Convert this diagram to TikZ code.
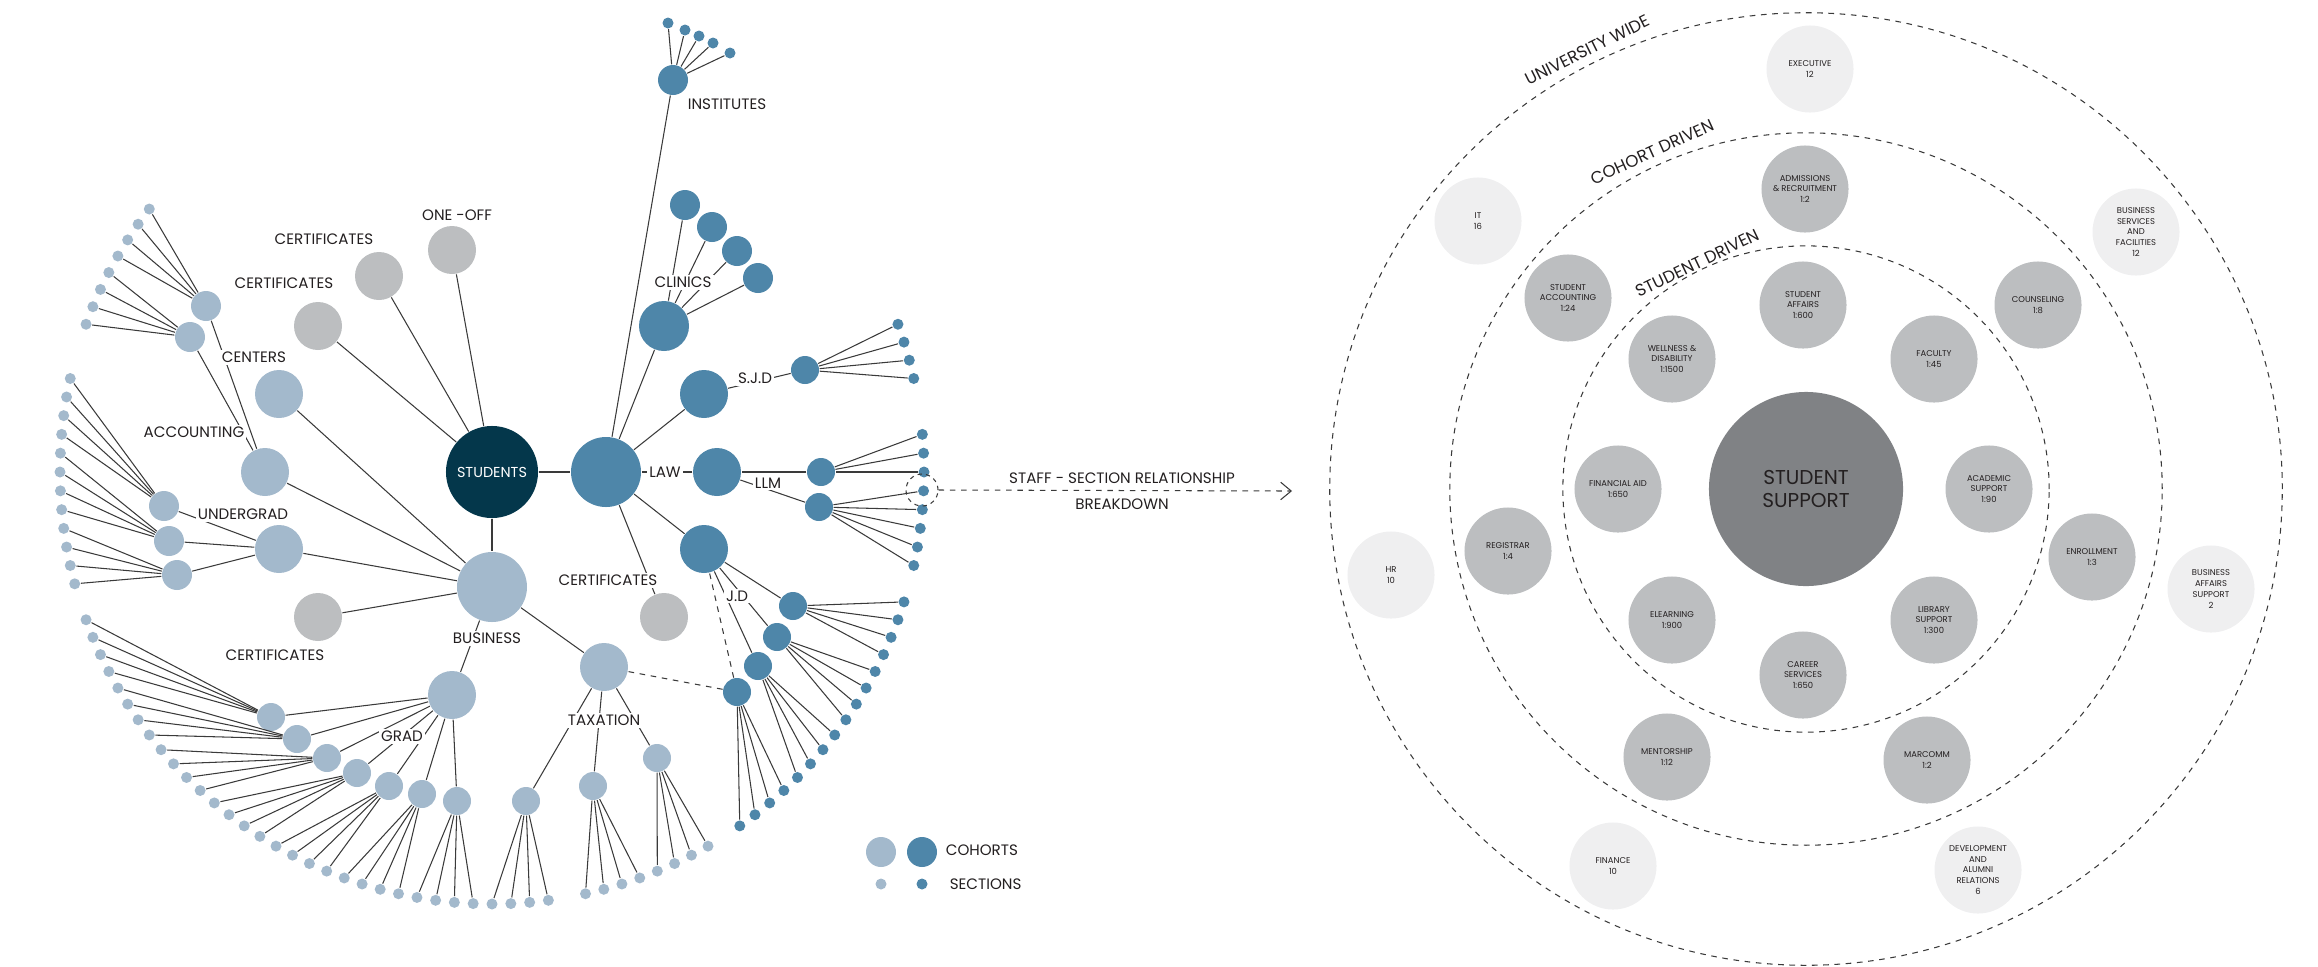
\documentclass[tikz,border=0pt]{standalone}
\usepackage{fontspec}
\setmainfont{Poppins}
\usetikzlibrary{arrows.meta}
\definecolor{lblue}{HTML}{A3B9CC}
\definecolor{dblue}{HTML}{4E86A9}
\definecolor{navy}{HTML}{04374B}
\definecolor{cgrey}{HTML}{BCBEC0}
\definecolor{ugrey}{HTML}{EFEFF0}
\definecolor{sgrey}{HTML}{808285}
\definecolor{linec}{HTML}{3A3A3A}
\definecolor{txt}{HTML}{231F20}
\tikzset{
  lb/.style={circle,fill=lblue,inner sep=0pt,minimum size=#1*0.01cm},
  db/.style={circle,fill=dblue,inner sep=0pt,minimum size=#1*0.01cm},
  gr/.style={circle,fill=cgrey,inner sep=0pt,minimum size=#1*0.01cm},
  edge/.style={draw=linec,line width=0.3pt},
  dedge/.style={draw=linec,line width=0.3pt,dash pattern=on 1.6pt off 1.6pt},
  lab/.style={font=\fontsize{4.3}{5}\selectfont,text=txt,fill=white,inner sep=0.6pt},
  rn/.style={circle,fill=cgrey,inner sep=0pt,minimum size=0.87cm,align=center,font=\fontsize{2.4}{3.1}\selectfont,text=txt},
  un/.style={rn,fill=ugrey},
  ring/.style={draw=linec,line width=0.3pt,dash pattern=on 1.6pt off 1.6pt},
  ringlab/.style={font=\fontsize{4.8}{5}\selectfont,text=txt,inner sep=0pt},
}
\begin{document}
\begin{tikzpicture}[x=0.01cm,y=-0.01cm]
\useasboundingbox (0,0) rectangle (2318,966);
% ---------------- left tree ----------------
\node[circle,fill=navy,inner sep=0pt,minimum size=0.92cm,text=white,font=\fontsize{4.1}{5}\selectfont] (S) at (492,472) {STUDENTS};
\node[db=70] (law) at (606,472) {};
\node[lb=70] (bus) at (492,587) {};
\draw[edge] (S)--(law); \draw[edge] (S)--(bus);
% grey certificates
\node[gr=48] (c1) at (318,326) {};
\node[gr=48] (c2) at (379,276) {};
\node[gr=48] (c3) at (452,250) {};
\node[gr=48] (c4) at (318,617) {};
\node[gr=48] (c5) at (664,617) {};
\draw[edge] (c1)--(S); \draw[edge] (c2)--(S); \draw[edge] (c3)--(S);
\draw[edge] (c4)--(bus); \draw[edge] (c5)--(law);
% business side
\node[lb=48] (cen) at (279,394) {};
\node[lb=48] (acc) at (265,472) {};
\node[lb=48] (und) at (279,549) {};
\node[lb=48] (grad) at (452,695) {};
\node[lb=48] (tax) at (604,667) {};
\foreach \n in {cen,acc,und,grad,tax} \draw[edge] (\n)--(bus);
\node[lb=30] (tl1) at (206,306) {};
\node[lb=30] (tl2) at (190,337) {};
\draw[edge] (tl1)--(acc); \draw[edge] (tl2)--(acc);
\node[lb=30] (u1) at (164,506) {};
\node[lb=30] (u2) at (169,541) {};
\node[lb=30] (u3) at (177,575) {};
\foreach \n in {u1,u2,u3} \draw[edge] (\n)--(und);
\foreach \n/\p in {g1/{271,717},g2/{297,739},g3/{327,758},g4/{357,773},g5/{389,786},g6/{422,794},g7/{457,801}}
  {\node[lb=28] (\n) at (\p) {}; \draw[edge] (\n)--(grad);}
\foreach \n/\p in {t1/{526,801},t2/{593,786},t3/{657,758}}
  {\node[lb=28] (\n) at (\p) {}; \draw[edge] (\n)--(tax);}
% law side
\node[db=30] (inst) at (673,80) {};
\node[db=50] (cli) at (664,326) {};
\node[db=48] (sjd) at (704,394) {};
\node[db=48] (llm) at (717,472) {};
\node[db=48] (jd) at (704,549) {};
\foreach \n in {inst,cli,sjd,llm,jd} \draw[edge] (\n)--(law);
\foreach \n/\p in {k1/{685,205},k2/{712,227},k3/{737,251},k4/{758,278}}
  {\node[db=30] (\n) at (\p) {}; \draw[edge] (\n)--(cli);}
\node[db=28] (s1) at (805,370) {}; \draw[edge] (s1)--(sjd);
\node[db=28] (m1) at (821,472) {}; \draw[edge] (m1)--(llm);
\node[db=28] (m2) at (819,507) {}; \draw[edge] (m2)--(llm);
\foreach \n/\p in {j1/{793,606},j2/{777,637},j3/{758,666}}
  {\node[db=28] (\n) at (\p) {}; \draw[edge] (\n)--(jd);}
\node[db=28] (j4) at (737,692) {};
\draw[dedge] (j4)--(jd); \draw[dedge] (j4)--(tax);
\foreach \i/\p in {1/{668,23},2/{685,30},3/{699,36},4/{713,43},5/{730,53}}
  {\node[db=11] (il\i) at (\p) {}; \draw[edge] (il\i)--(inst);}
% leaves on the arc
\foreach \c/\al/\col in {tl1/{217.5,215,212.5,210}/lb,tl2/{207.5,205,202.5,200}/lb,
  u1/{192.5,190,187.5,185}/lb,u2/{182.5,180,177.5,175}/lb,u3/{172.5,170,167.5,165}/lb,
  g1/{160,157.5,155,152.5}/lb,g2/{150,147.5,145,142.5}/lb,g3/{140,137.5,135,132.5}/lb,
  g4/{130,127.5,125,122.5}/lb,g5/{120,117.5,115,112.5}/lb,g6/{110,107.5,105,102.5}/lb,
  g7/{100,97.5,95,92.5}/lb,t1/{90,87.5,85,82.5}/lb,t2/{77.5,75,72.5,70}/lb,t3/{67.5,65,62.5,60}/lb,
  j4/{55,52.5,50,47.5}/db,j3/{45,42.5,40,37.5}/db,j2/{35,32.5,30,27.5}/db,j1/{25,22.5,20,17.5}/db,
  m2/{12.5,10,7.5,5,2.5}/db,m1/{0,-2.5,-5}/db,s1/{-12.5,-15,-17.5,-20}/db}
  {\foreach \a in \al {
     \pgfmathtruncatemacro\k{round(\a*10+3000)}
     \node[\col=11] (lf\k) at ([shift={(492,472)}]\a:432) {};
     \draw[edge] (lf\k)--(\c);}}
% labels
\node[lab] (tINST) at (727,104) {INSTITUTES};
\node[lab] (tONE) at (457,215) {ONE -OFF};
\node[lab] (tC1) at (324,239) {CERTIFICATES};
\node[lab] (tC2) at (284,283) {CERTIFICATES};
\node[lab] (tCEN) at (254,357) {CENTERS};
\node[lab] (tCLI) at (683,282) {CLINICS};
\node[lab] (tSJD) at (755,378) {S.J.D};
\node[lab] (tACC) at (194,432) {ACCOUNTING};
\node[lab] (tLAW) at (665,472) {LAW};
\node[lab] (tLLM) at (768,483) {LLM};
\node[lab] (tUND) at (243,514) {UNDERGRAD};
\node[lab] (tC3) at (608,580) {CERTIFICATES};
\node[lab] (tJD) at (737,596) {J.D};
\node[lab] (tBUS) at (487,638) {BUSINESS};
\node[lab] (tC4) at (275,655) {CERTIFICATES};
\node[lab] (tTAX) at (604,720) {TAXATION};
\node[lab] (tGRAD) at (402,736) {GRAD};
% staff-section relationship
\node[circle,draw=linec,line width=0.3pt,dash pattern=on 1.2pt off 1.2pt,minimum size=0.32cm,inner sep=0pt] (hl) at (922,490) {};
\coordinate (arrEnd) at (1292,491);
\draw[dedge,-{Straight Barb[length=3pt,width=5pt]}] (hl.east) -- (arrEnd);
\node[lab,fill=none] (tSTAFF) at (1122,478) {STAFF - SECTION RELATIONSHIP};
\node[lab,fill=none] (tBRK) at (1122,504) {BREAKDOWN};
% legend
\node[lb=30] (lg1) at (881,852) {};
\node[db=30] (lg2) at (922,852) {};
\node[lab,fill=none,anchor=west] (tCOH) at (943,850) {COHORTS};
\node[lb=11] (lg3) at (881,884) {};
\node[db=11] (lg4) at (922,884) {};
\node[lab,fill=none,anchor=west] (tSEC) at (947,884) {SECTIONS};
% ---------------- right rings ----------------
\coordinate (O) at (1806,489);
\draw[ring] (O) circle [radius=2.43cm];
\draw[ring] (O) circle [radius=3.56cm];
\draw[ring] (O) circle [radius=4.76cm];
\node[ringlab,rotate=26.5] (rUW) at (1587,50) {UNIVERSITY WIDE};
\node[ringlab,rotate=24.6] (rCD) at (1652,152) {COHORT DRIVEN};
\node[ringlab,rotate=25.7] (rSD) at (1697,263) {STUDENT DRIVEN};
\node[circle,fill=sgrey,minimum size=1.94cm,inner sep=0pt,align=center,text=txt,font=\fontsize{5.7}{6.6}\selectfont] (SS) at (O) {STUDENT\\SUPPORT};
% student driven
\node[rn] (n1) at (1803,305) {STUDENT\\AFFAIRS\\1:600};
\node[rn] (n2) at (1934,359) {FACULTY\\1:45};
\node[rn] (n3) at (1989,489) {ACADEMIC\\SUPPORT\\1:90};
\node[rn] (n4) at (1934,620) {LIBRARY\\SUPPORT\\1:300};
\node[rn] (n5) at (1803,675) {CAREER\\SERVICES\\1:650};
\node[rn] (n6) at (1672,620) {ELEARNING\\1:900};
\node[rn] (n7) at (1618,489) {FINANCIAL AID\\1:650};
\node[rn] (n8) at (1672,359) {WELLNESS \&\\DISABILITY\\1:1500};
% cohort driven
\node[rn] (c21) at (1805,189) {ADMISSIONS\\\& RECRUITMENT\\1:2};
\node[rn] (c22) at (2038,305) {COUNSELING\\1:8};
\node[rn] (c23) at (2092,557) {ENROLLMENT\\1:3};
\node[rn] (c24) at (1927,760) {MARCOMM\\1:2};
\node[rn] (c25) at (1667,757) {MENTORSHIP\\1:12};
\node[rn] (c26) at (1508,551) {REGISTRAR\\1:4};
\node[rn] (c27) at (1568,298) {STUDENT\\ACCOUNTING\\1:24};
% university wide
\node[un] (w1) at (1810,69) {EXECUTIVE\\12};
\node[un] (w2) at (2136,232) {BUSINESS\\SERVICES\\AND\\FACILITIES\\12};
\node[un] (w3) at (2211,589) {BUSINESS\\AFFAIRS\\SUPPORT\\2};
\node[un] (w4) at (1978,870) {DEVELOPMENT\\AND\\ALUMNI\\RELATIONS\\6};
\node[un] (w5) at (1613,866) {FINANCE\\10};
\node[un] (w6) at (1391,575) {HR\\10};
\node[un] (w7) at (1478,221) {IT\\16};
\end{tikzpicture}
\end{document}
